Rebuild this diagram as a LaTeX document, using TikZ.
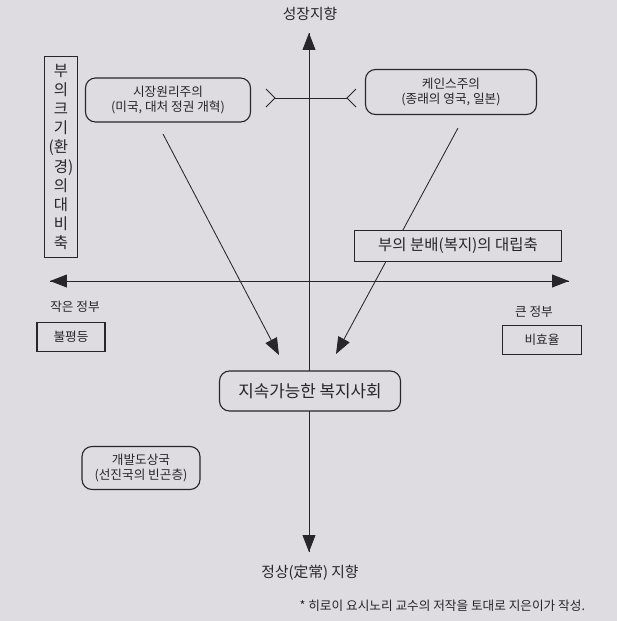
\documentclass[tikz,border=0pt]{standalone}
\usepackage{fontspec}
\setmainfont{Noto Sans CJK KR}
\usetikzlibrary{arrows.meta}
\definecolor{paper}{RGB}{222,220,224}
\definecolor{ink}{RGB}{40,38,42}
\tikzset{
  rbox/.style={draw=ink, thick, rounded corners=2.5mm, fill=paper, align=center, inner sep=0pt},
  sbox/.style={draw=ink, thick, fill=paper, align=center, inner sep=0pt},
  bigtip/.style={-{Triangle[length=4.2mm,width=3.2mm]}, semithick, draw=ink},
}
\begin{document}
\begin{tikzpicture}[x=0.025cm, y=-0.025cm, font=\fontsize{9}{11}\selectfont, color=ink]
\fill[paper] (0,0) rectangle (617,621);
\useasboundingbox (0,0) rectangle (617,621);
% axes
\coordinate (top) at (309,33);
\coordinate (bottom) at (309,552);
\coordinate (west) at (50,281);
\coordinate (east) at (569,281);
\draw[bigtip] (bottom) -- (top);
\draw[bigtip] (top) -- (bottom);
\draw[bigtip] (east) -- (west);
\draw[bigtip] (west) -- (east);
\node (growth) at (310,14) {\fontsize{10.5}{12}\selectfont 성장지향};
\node (steady) at (310,573) {\fontsize{10.5}{12}\selectfont 정상(定常) 지향};
% converging arrows
\coordinate (mstart) at (163,134);
\coordinate (mtip) at (279,355);
\coordinate (kstart) at (458,128);
\coordinate (ktip) at (336,354);
\draw[bigtip] (mstart) -- (mtip);
\draw[bigtip] (kstart) -- (ktip);
% boxes
\node[rbox, minimum width=4.125cm, minimum height=1.1cm] (market) at (168,100)
  {시장원리주의\\(미국, 대처 정권 개혁)};
\node[rbox, minimum width=4.275cm, minimum height=1.125cm] (keynes) at (451,92)
  {케인스주의\\(종래의 영국, 일본)};
\node[sbox, minimum width=0.825cm, minimum height=5.025cm,
      font=\fontsize{11}{13.6}\selectfont] (size) at (61,157)
  {부\\의\\크\\기\\\llap{(}환\\경\rlap{)}\\의\\대\\비\\축};
\node[sbox, minimum width=5.175cm, minimum height=0.775cm,
      font=\fontsize{11}{13}\selectfont] (dist) at (458,246) {부의 분배(복지)의 대립축};
\node (small) at (75,307) {작은 정부};
\node[sbox, minimum width=1.7cm, minimum height=0.725cm] (ineq) at (71,337) {불평등};
\node (large) at (534,312) {큰 정부};
\node[sbox, minimum width=1.975cm, minimum height=0.725cm] (ineff) at (542,340) {비효율};
\node[rbox, minimum width=4.525cm, minimum height=1cm,
      font=\fontsize{12}{14}\selectfont] (welfare) at (310,391) {지속가능한 복지사회};
\node[rbox, minimum width=2.95cm, minimum height=1.075cm] (devel) at (141,468)
  {개발도상국\\(선진국의 빈곤층)};
% opposition mark
\coordinate (hl) at (275,98);
\coordinate (hr) at (347,98);
\draw[semithick] (266,89) -- (hl) -- (266,107);
\draw[semithick] (hl) -- (hr);
\draw[semithick] (356,89) -- (hr) -- (356,107);
\node[anchor=east] (note) at (590,606) {* 히로이 요시노리 교수의 저작을 토대로 지은이가 작성.};
\end{tikzpicture}
\end{document}
